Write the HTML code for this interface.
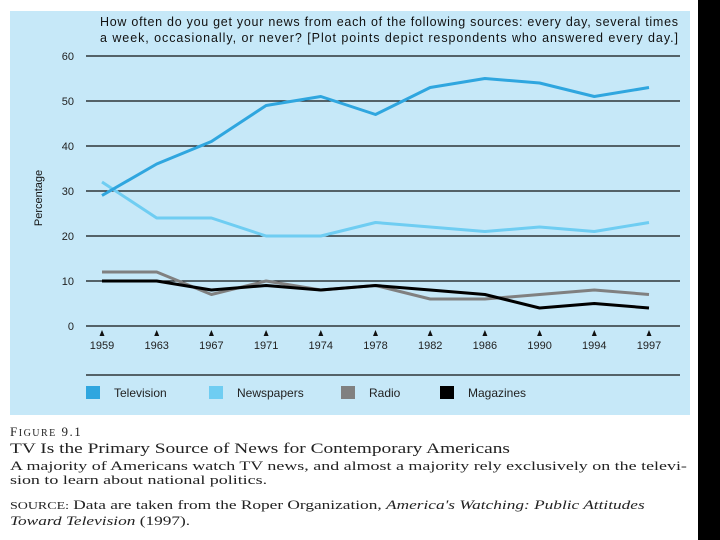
<!DOCTYPE html>
<html><head><meta charset="utf-8"><style>
body{margin:0;width:720px;height:540px;background:#fff;overflow:hidden;position:relative;font-family:"Liberation Sans",sans-serif}
#panel{position:absolute;left:10px;top:11px;width:680px;height:404px;background:#c6e8f8}
#black{position:absolute;left:698px;top:0;width:22px;height:540px;background:#000}
.cap{position:absolute;left:10px;font-family:"Liberation Serif",serif;color:#222;white-space:nowrap;transform-origin:0 0}
</style></head><body>
<div id="panel"></div>
<div id="black"></div>
<svg id="chart" width="720" height="540" style="position:absolute;left:0;top:0">
<text x="100" y="26" font-size="12.5" fill="#111" textLength="578">How often do you get your news from each of the following sources: every day, several times</text>
<text x="100" y="42" font-size="12.5" fill="#111" textLength="578">a week, occasionally, or never? [Plot points depict respondents who answered every day.]</text>
<text transform="translate(42,198) rotate(-90)" text-anchor="middle" font-size="11" fill="#111">Percentage</text>
<g id="grid"></g><g id="series"></g>
<line x1="86" y1="375" x2="680" y2="375" stroke="#111" stroke-width="1.2"/>
<g>
<rect x="86" y="386" width="14" height="13" fill="#2fa6df"/>
<text x="114" y="397" font-size="12" fill="#222">Television</text>
<rect x="209" y="386" width="14" height="13" fill="#6fcdf2"/>
<text x="237" y="397" font-size="12" fill="#222">Newspapers</text>
<rect x="341" y="386" width="14" height="13" fill="#808080"/>
<text x="369" y="397" font-size="12" fill="#222">Radio</text>
<rect x="440" y="386" width="14" height="13" fill="#000"/>
<text x="468" y="397" font-size="12" fill="#222">Magazines</text>
</g>
</svg>
<div class="cap" style="top:424px;font-size:13px;letter-spacing:1.5px">F<span style="font-size:10px">IGURE</span> 9.1</div>
<div class="cap" style="top:441px;font-size:15px;transform:scaleX(1.29)">TV Is the Primary Source of News for Contemporary Americans</div>
<div class="cap" style="top:459px;font-size:13px;line-height:14px;transform:scaleX(1.38)">A majority of Americans watch TV news, and almost a majority rely exclusively on the televi-<br>sion to learn about national politics.</div>
<div class="cap" style="top:498px;font-size:13px;line-height:14px;transform:scaleX(1.33)"><span style="font-size:10.5px">SOURCE:</span> Data are taken from the Roper Organization, <i>America's Watching: Public Attitudes<br>Toward Television</i> (1997).</div>
<script>
const years=["1959","1963","1967","1971","1974","1978","1982","1986","1990","1994","1997"];
const television=[29,36,41,49,51,47,53,55,54,51,53];
const newspapers=[32,24,24,20,20,23,22,21,22,21,23];
const radio=[12,12,7,10,8,9,6,6,7,8,7];
const magazines=[10,10,8,9,8,9,8,7,4,5,4];
const yTicks=[0,10,20,30,40,50,60];
const NS="http://www.w3.org/2000/svg";
const xs=i=>102+i*54.7;
const ys=v=>326-v*4.5;
const grid=document.getElementById('grid');
function mk(tag,attrs,parent){const e=document.createElementNS(NS,tag);for(const k in attrs)e.setAttribute(k,attrs[k]);parent.appendChild(e);return e;}
yTicks.forEach(t=>{
  const l=mk('line',{x1:86,x2:680,y1:ys(t),y2:ys(t),stroke:'#111','stroke-width':1.2},grid);
  
  
  const tx=mk('text',{x:74,y:ys(t)+4,'text-anchor':'end','font-size':11,fill:'#222'},grid);
  tx.textContent=t;
  
  
});
years.forEach((y,i)=>{
  const p=mk('path',{d:`M${xs(i)-2.5},${ys(0)+10}L${xs(i)},${ys(0)+4}L${xs(i)+2.5},${ys(0)+10}Z`,fill:'#111'},grid);
  
  
  const tx=mk('text',{x:xs(i),y:ys(0)+23,'text-anchor':'middle','font-size':11,fill:'#222'},grid);
  tx.textContent=y;
  
  
});
const ser=document.getElementById('series');
[[newspapers,'#6fcdf2','newspapers'],[radio,'#808080','radio'],[magazines,'#000','magazines'],[television,'#2fa6df','television']].forEach(([d,c,n])=>{
  const pl=mk('polyline',{points:d.map((v,i)=>xs(i)+','+ys(v)).join(' '),fill:'none',stroke:c,'stroke-width':3,'stroke-linejoin':'round'},ser);
  
  
});
</script>
</body></html>
